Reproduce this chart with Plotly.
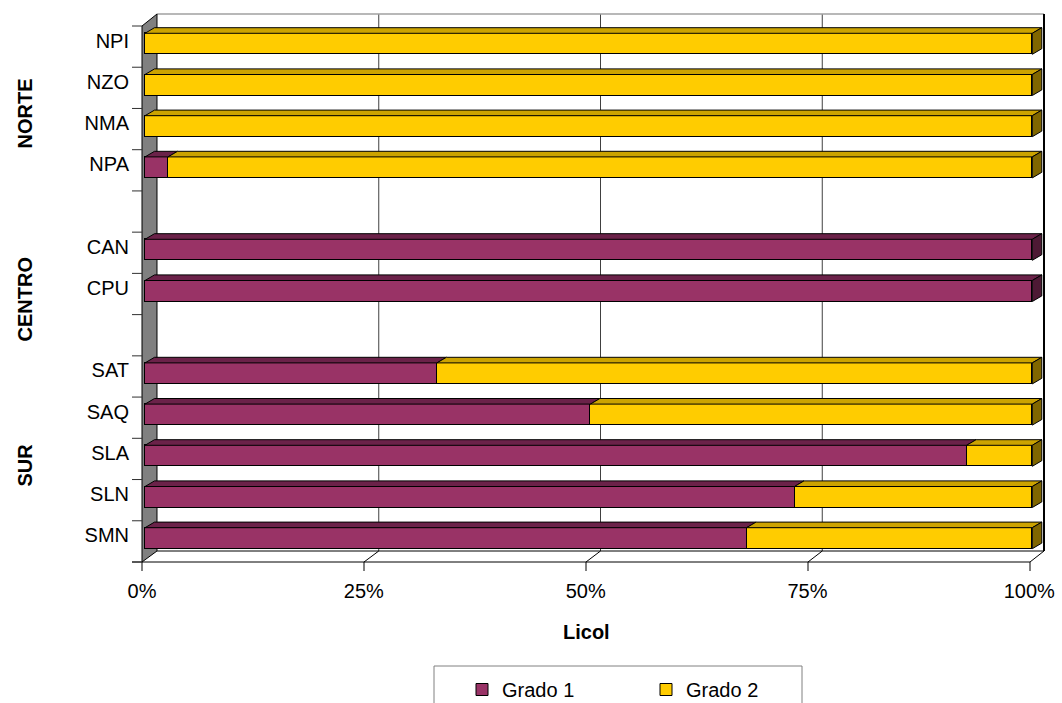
import plotly.graph_objects as go

# ---- data -------------------------------------------------------------
regions = ["NORTE", "CENTRO", "SUR"]
norte = ["NPI", "NZO", "NMA", "NPA"]
centro = ["CAN", "CPU"]
sur = ["SAT", "SAQ", "SLA", "SLN", "SMN"]

grado1_norte = [0, 0, 0, 2.6]
grado2_norte = [100, 100, 100, 97.4]
grado1_centro = [100, 100]
grado2_centro = [0, 0]
grado1_sur = [32.9, 50.2, 92.6, 73.2, 67.8]
grado2_sur = [67.1, 49.8, 7.4, 26.8, 32.2]

x_tickvals = [0, 25, 50, 75, 100]
x_ticktext = ["0%", "25%", "50%", "75%", "100%"]

series_names = ["Grado 1", "Grado 2"]

# ---- styling ----------------------------------------------------------
FONT = "Liberation Sans, Arial, sans-serif"
FS = 20
G1, G1_TOP, G1_SIDE = "#993366", "#6B2249", "#4D1934"
G2, G2_TOP, G2_SIDE = "#FFCC00", "#CCA300", "#806600"
EDGE = "#000000"

FIG_W, FIG_H = 1062, 703
# plot area in page pixels (covers front and back planes of the 3-D box)
L, R, T, B = 142, 1045, 14, 563
# bar plane: 0% / 100% positions, centre of top slot, slot pitch
BAR_X0, BAR_X100 = 145.0, 1032.3
TOP_SLOT_Y, PITCH = 43.8, 41.2
BAR_W_PX = 21.0
BAR_DX_PX, BAR_DY_PX = 9.5, 5.6
# front plane and back wall of the box
FRONT_L, FRONT_R, FRONT_T, FRONT_B = 142, 1030, 26, 562
BACK_L, BACK_R, BACK_T, BACK_B = 157, 1044, 14, 551

# ---- slot layout: groups top to bottom with an empty slot between -----
groups = [(norte, grado1_norte, grado2_norte),
          (centro, grado1_centro, grado2_centro),
          (sur, grado1_sur, grado2_sur)]
n_slots = sum(len(g[0]) for g in groups) + len(groups) - 1
cats, pos, g1, g2 = [], [], [], []
slot = 0
for cnames, a, b in groups:
    for c, v1, v2 in zip(cnames, a, b):
        cats.append(c)
        pos.append(n_slots - 1 - slot)
        g1.append(v1)
        g2.append(v2)
        slot += 1
    slot += 1

# ---- axis scales ------------------------------------------------------
px_per_x = (BAR_X100 - BAR_X0) / 100.0
x_range = [(L - BAR_X0) / px_per_x, 100 + (R - BAR_X100) / px_per_x]
top_pos = n_slots - 1
y_range = [top_pos - (B - TOP_SLOT_Y) / PITCH, top_pos + (TOP_SLOT_Y - T) / PITCH]
bar_w = BAR_W_PX / PITCH
DX = BAR_DX_PX / px_per_x
DY = BAR_DY_PX / PITCH


def px(X):
    return (X - L) / (R - L)


def py(Y):
    return (B - Y) / (B - T)


def ppath(points):
    return "M" + " L".join(f"{px(x):.5f},{py(y):.5f}" for x, y in points) + " Z"


fig = go.Figure()
for name, vals, col in [(series_names[0], g1, G1), (series_names[1], g2, G2)]:
    fig.add_trace(go.Bar(
        y=pos, x=vals, name=name, orientation="h", width=bar_w,
        marker=dict(color=col, line=dict(color=EDGE, width=1)),
        hoverinfo="skip",
    ))

shapes = []

# back wall gridlines (behind bars)
for v in x_tickvals[1:-1]:
    xb = BACK_L + v / 100 * (BACK_R - BACK_L)
    shapes.append(dict(type="line", xref="paper", yref="paper",
                       x0=px(xb), x1=px(xb), y0=py(BACK_T), y1=py(BACK_B),
                       line=dict(color="#404040", width=1), layer="below"))
# back wall top edge and right edge
shapes.append(dict(type="line", xref="paper", yref="paper",
                   x0=px(BACK_L), x1=px(BACK_R), y0=py(BACK_T), y1=py(BACK_T),
                   line=dict(color="#a0a0a0", width=1.5), layer="below"))
shapes.append(dict(type="line", xref="paper", yref="paper",
                   x0=px(BACK_R), x1=px(BACK_R), y0=py(BACK_T), y1=py(BACK_B),
                   line=dict(color=EDGE, width=2), layer="below"))
# floor: back edge, front edge, diagonals
shapes.append(dict(type="line", xref="paper", yref="paper",
                   x0=px(BACK_L), x1=px(BACK_R), y0=py(BACK_B), y1=py(BACK_B),
                   line=dict(color=EDGE, width=1), layer="below"))
shapes.append(dict(type="line", xref="paper", yref="paper",
                   x0=px(FRONT_L - 10), x1=px(FRONT_R), y0=py(FRONT_B), y1=py(FRONT_B),
                   line=dict(color=EDGE, width=1), layer="below"))
for v in x_tickvals[1:]:
    xf = FRONT_L + v / 100 * (FRONT_R - FRONT_L)
    xb = BACK_L + v / 100 * (BACK_R - BACK_L)
    shapes.append(dict(type="line", xref="paper", yref="paper",
                       x0=px(xf), x1=px(xb), y0=py(FRONT_B), y1=py(BACK_B),
                       line=dict(color=EDGE, width=1), layer="below"))
# front x tick marks
for v in x_tickvals:
    xf = FRONT_L + v / 100 * (FRONT_R - FRONT_L)
    shapes.append(dict(type="line", xref="paper", yref="paper",
                       x0=px(xf), x1=px(xf), y0=py(FRONT_B), y1=py(FRONT_B + 9),
                       line=dict(color=EDGE, width=1), layer="below"))
# left (grey) wall
shapes.append(dict(type="path", xref="paper", yref="paper",
                   path=ppath([(FRONT_L, FRONT_T), (BACK_L, BACK_T),
                               (BACK_L, BACK_B), (FRONT_L, FRONT_B)]),
                   fillcolor="#808080", line=dict(color=EDGE, width=1), layer="below"))
# left category tick marks on the front edge
for k in range(n_slots + 1):
    yk = FRONT_T + k * (FRONT_B - FRONT_T) / n_slots
    shapes.append(dict(type="line", xref="paper", yref="paper",
                       x0=px(FRONT_L - 10), x1=px(FRONT_L), y0=py(yk), y1=py(yk),
                       line=dict(color="#303030", width=1), layer="below"))

# 3-D top and end faces of each bar segment
for p, v1, v2 in zip(pos, g1, g2):
    yt = p + bar_w / 2
    yb = p - bar_w / 2
    left = 0
    segs = [(v1, G1_TOP, G1_SIDE), (v2, G2_TOP, G2_SIDE)]
    last = max(i for i, s in enumerate(segs) if s[0] > 0)
    for i, (v, top_col, side_col) in enumerate(segs):
        if v <= 0:
            continue
        right = left + v
        shapes.append(dict(
            type="path", xref="x", yref="y",
            path=(f"M{left},{yt} L{left + DX},{yt + DY} "
                  f"L{right + DX},{yt + DY} L{right},{yt} Z"),
            fillcolor=top_col, line=dict(color=EDGE, width=1), layer="above"))
        if i == last:
            shapes.append(dict(
                type="path", xref="x", yref="y",
                path=(f"M{right},{yb} L{right},{yt} "
                      f"L{right + DX},{yt + DY} L{right + DX},{yb + DY} Z"),
                fillcolor=side_col, line=dict(color=EDGE, width=1), layer="above"))
        left = right

# legend frame
shapes.append(dict(type="rect", xref="paper", yref="paper",
                   x0=px(434), x1=px(802), y0=py(666), y1=py(712),
                   line=dict(color="#808080", width=1), fillcolor="rgba(0,0,0,0)"))

annotations = []
# region labels
for name, yc in zip(regions, [114, 300, 465]):
    annotations.append(dict(text=f"<b>{name}</b>", xref="paper", yref="paper",
                            x=px(24.5), y=py(yc), showarrow=False, textangle=-90,
                            font=dict(family=FONT, size=FS, color="black"),
                            xanchor="center", yanchor="middle"))
# x axis title
annotations.append(dict(text="<b>Licol</b>", xref="paper", yref="paper",
                        x=px(586), y=py(632), showarrow=False,
                        font=dict(family=FONT, size=FS, color="black"),
                        xanchor="center", yanchor="middle"))

fig.update_layout(
    width=FIG_W, height=FIG_H,
    margin=dict(l=L, r=FIG_W - R, t=T, b=FIG_H - B, pad=0, autoexpand=False),
    barmode="stack", bargap=0,
    paper_bgcolor="white", plot_bgcolor="white",
    font=dict(family=FONT, size=FS, color="black"),
    xaxis=dict(range=x_range, tickvals=x_tickvals, ticktext=x_ticktext,
               showgrid=False, zeroline=False, showline=False, ticks="",
               ticklabelstandoff=14, ticklabelshift=-3, fixedrange=True),
    yaxis=dict(range=y_range, tickvals=pos, ticktext=cats,
               showgrid=False, zeroline=False, showline=False, ticks="",
               ticklabelstandoff=12, ticklabelshift=-3, fixedrange=True),
    showlegend=True,
    legend=dict(orientation="h", x=px(462), xanchor="left", y=py(670), yanchor="top",
                traceorder="normal", bgcolor="rgba(0,0,0,0)", borderwidth=0,
                entrywidth=139, entrywidthmode="pixels",
                font=dict(family=FONT, size=FS, color="black")),
    shapes=shapes,
    annotations=annotations,
)

fig.write_html("out.html")
